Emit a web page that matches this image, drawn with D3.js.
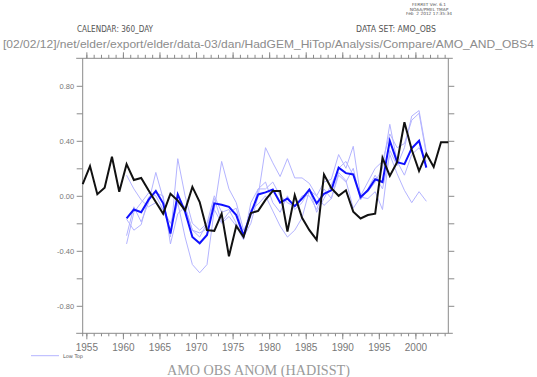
<!DOCTYPE html>
<html>
<head>
<meta charset="utf-8">
<script src="https://cdn.jsdelivr.net/npm/d3@7"></script>
<style>
  body { margin: 0; background: #fff; }
  svg { display: block; }
</style>
</head>
<body>
<svg id="grafico"></svg>
<script>
const WIDTH = 537,
    HEIGHT = 377;

const margin = { top: 58.3, bottom: 43.7, left: 82.7, right: 88.7 };

// observations (black), one value a year, plotted at mid-year
const obsYears = d3.range(1954, 2005);
const obsValues = [
    0.085, 0.216, 0.012, 0.058, 0.284, 0.03, 0.23, 0.115, 0.13, 0.04,
    -0.045, -0.13, 0.015, -0.035, -0.105, 0.065, -0.045, -0.25, -0.255, -0.13,
    -0.44, -0.22, -0.30, -0.125, -0.11, -0.03, 0.035, 0.035, -0.26, 0.005,
    -0.16, -0.25, -0.32, 0.155, 0.055, 0.0, 0.04, -0.115, -0.165, -0.14,
    -0.13, 0.275, 0.145, 0.245, 0.535, 0.335, 0.18, 0.305, 0.21, 0.39,
    0.39
];

// model runs 1960-2001
const runYears = d3.range(1960, 2002);
const meanValues = [
    -0.165, -0.10, -0.12, -0.03, 0.035, -0.055, -0.275, 0.01, -0.115, -0.30,
    -0.345, -0.285, -0.055, -0.065, -0.08, -0.14, -0.29, -0.125, 0.01, 0.025,
    0.045, -0.05, -0.02, -0.075, -0.02, 0.045, -0.055, 0.015, 0.04, 0.205,
    0.165, 0.155, -0.01, 0.04, 0.12, 0.10, 0.40, 0.245, 0.23, 0.345,
    0.40, 0.205
];
const member1 = [
    -0.35, -0.12, -0.05, 0.02, 0.0, -0.10, -0.20, -0.05, -0.30, -0.50,
    -0.56, -0.50, -0.10, 0.25, 0.05, -0.05, -0.25, -0.15, 0.05, 0.10,
    -0.05, -0.12, 0.0, -0.10, -0.05, 0.05, -0.12, -0.02, 0.08, 0.20,
    0.25, 0.15, 0.0, 0.03, 0.10, 0.20, 0.52, 0.25, 0.15, 0.30,
    0.35, 0.25
];
const member2 = [
    -0.29, -0.08, -0.19, -0.05, 0.17, -0.02, -0.30, 0.27, 0.0, -0.20,
    -0.25, -0.20, -0.10, -0.20, -0.15, -0.22, -0.32, -0.05, 0.05, 0.05,
    0.10, 0.0, -0.05, -0.08, 0.0, 0.0, -0.10, 0.05, -0.02, 0.15,
    0.10, 0.20, -0.03, 0.05, 0.15, 0.05, 0.30, 0.16, 0.04, -0.05,
    0.03, -0.04
];
const member3 = [
    0.15, 0.05, -0.03, -0.08, -0.05, -0.10, -0.25, -0.05, -0.08, -0.25,
    -0.30, -0.20, 0.0, -0.12, -0.10, -0.20, -0.30, -0.20, 0.0, 0.35,
    0.24, 0.14, 0.27, 0.13, 0.13, 0.09, 0.0, 0.10, 0.12, 0.30,
    0.20, 0.36, 0.0, 0.10, 0.20, 0.25, 0.45, 0.35, 0.38, 0.55,
    0.60, 0.30
];
const member4 = [
    -0.17, -0.25, -0.21, -0.01, 0.02, 0.0, -0.35, -0.13, -0.08, -0.25,
    -0.27, -0.24, -0.02, -0.19, -0.12, -0.09, -0.29, -0.10, -0.06, 0.0,
    -0.11, -0.22, -0.30, -0.25, -0.16, 0.04, 0.0, -0.07, -0.02, 0.17,
    0.11, -0.09, -0.01, -0.02, 0.03, -0.10, 0.33, 0.22, 0.35, 0.58,
    0.62, 0.32
];
const members = [member1, member2, member3, member4];

const majorYears = d3.range(1955, 2005, 5);
const minorYears = d3.range(1955, 2005);
const majorValues = [-0.8, -0.4, 0, 0.4, 0.8];
const minorValues = [-0.6, -0.2, 0.2, 0.6];

const svg = d3.select("#grafico")
    .attr("width", WIDTH)
    .attr("height", HEIGHT)
    .attr("font-family", "DejaVu Sans, sans-serif");

const x = d3.scaleLinear()
    .domain([1954.5, 2004.5])
    .range([margin.left, WIDTH - margin.right]);

const y = d3.scaleLinear()
    .domain([-1, 1])
    .range([HEIGHT - margin.bottom, margin.top]);

const gris = "#8a8a8a";

// ejes
const ejes = svg.append("g");

const ponerEje = (eje, transform) => {
    const g = ejes.append("g")
        .attr("transform", transform)
        .call(eje);
    g.select(".domain").remove();
    g.selectAll("line").attr("stroke", gris);
    g.selectAll("text").attr("fill", "#777").attr("font-size", 10);
    return g;
};

const yBottom = y(-1), yTop = y(1);

ponerEje(d3.axisBottom(x).tickValues(majorYears).tickSize(6).tickPadding(5).tickFormat(d3.format("d")),
    `translate(0 ${yBottom})`);
ponerEje(d3.axisBottom(x).tickValues(minorYears).tickSize(3).tickFormat(""),
    `translate(0 ${yBottom})`);
ponerEje(d3.axisTop(x).tickValues(majorYears).tickSize(6).tickFormat(""),
    `translate(0 ${yTop})`);
ponerEje(d3.axisTop(x).tickValues(minorYears).tickSize(3.5).tickFormat(""),
    `translate(0 ${yTop})`);

const ejeIzq = ponerEje(d3.axisLeft(y).tickValues(majorValues).tickSize(6).tickPadding(2.5)
    .tickFormat(d => d.toFixed(2)), `translate(${x(1954.5)} 0)`);
ejeIzq.selectAll("text").attr("font-size", 7.5);
ponerEje(d3.axisLeft(y).tickValues(minorValues).tickSize(6).tickFormat(""),
    `translate(${x(1954.5)} 0)`);
ponerEje(d3.axisRight(y).tickValues(majorValues.concat(minorValues)).tickSize(6).tickFormat(""),
    `translate(${x(2004.5)} 0)`);

// marco
ejes.append("line")
    .attr("x1", x(1954.5) - 6.5).attr("x2", x(2004.5) + 4.5)
    .attr("y1", yBottom).attr("y2", yBottom)
    .attr("stroke", gris);
ejes.append("line")
    .attr("x1", x(1954.5) - 6.5).attr("x2", x(2004.5) + 4.5)
    .attr("y1", yTop).attr("y2", yTop)
    .attr("stroke", gris);
ejes.append("line")
    .attr("x1", x(1954.5)).attr("x2", x(1954.5))
    .attr("y1", yTop).attr("y2", yBottom + 3)
    .attr("stroke", gris);
ejes.append("line")
    .attr("x1", x(2004.5)).attr("x2", x(2004.5))
    .attr("y1", yTop).attr("y2", yBottom)
    .attr("stroke", gris);

// lineas
const linea = d3.line()
    .x(d => x(d[0] + 0.5))
    .y(d => y(d[1]));

svg.append("g")
    .selectAll("path")
    .data(members)
    .join("path")
    .attr("fill", "none")
    .attr("stroke", "#b4b4ff")
    .attr("stroke-width", 1)
    .attr("d", vals => linea(runYears.map((a, i) => [a, vals[i]])));

svg.append("path")
    .attr("fill", "none")
    .attr("stroke", "#1010ff")
    .attr("stroke-width", 2)
    .attr("d", linea(runYears.map((a, i) => [a, meanValues[i]])));

svg.append("path")
    .attr("fill", "none")
    .attr("stroke", "#111")
    .attr("stroke-width", 2)
    .attr("d", linea(obsYears.map((a, i) => [a, obsValues[i]])));

// textos
const ferret = ["FERRET Ver. 6.1", "NOAA/PMEL TMAP", "Feb  2 2012 17:35:34"];
svg.append("g")
    .selectAll("text")
    .data(ferret)
    .join("text")
    .attr("x", 429)
    .attr("y", (d, i) => 6 + i * 4.6)
    .attr("text-anchor", "middle")
    .attr("font-size", 4.3)
    .attr("fill", "#555")
    .style("white-space", "pre")
    .text(d => d);

svg.append("text")
    .attr("x", 77).attr("y", 32)
    .attr("font-size", 8).attr("fill", "#555")
    .attr("textLength", 76).attr("lengthAdjust", "spacingAndGlyphs")
    .text("CALENDAR: 360_DAY");

svg.append("text")
    .attr("x", 356).attr("y", 32)
    .attr("font-size", 8).attr("fill", "#555")
    .attr("textLength", 80).attr("lengthAdjust", "spacingAndGlyphs")
    .text("DATA SET: AMO_OBS");

svg.append("text")
    .attr("x", 3).attr("y", 48)
    .attr("font-family", "Liberation Sans, Arial, sans-serif")
    .attr("font-size", 11.5).attr("fill", "#8c8c8c")
    .attr("textLength", 531).attr("lengthAdjust", "spacingAndGlyphs")
    .text("[02/02/12]/net/elder/export/elder/data-03/dan/HadGEM_HiTop/Analysis/Compare/AMO_AND_OBS4");

// leyenda
svg.append("line")
    .attr("x1", 31).attr("x2", 59)
    .attr("y1", 355.7).attr("y2", 355.7)
    .attr("stroke", "#b4b4ff");
svg.append("text")
    .attr("x", 63).attr("y", 357.5)
    .attr("font-size", 5).attr("fill", "#555")
    .text("Low Top");

svg.append("text")
    .attr("x", 258.5).attr("y", 375)
    .attr("text-anchor", "middle")
    .attr("font-family", "Liberation Serif, serif")
    .attr("font-size", 14).attr("fill", "#9a9a9a")
    .attr("textLength", 183).attr("lengthAdjust", "spacingAndGlyphs")
    .text("AMO OBS ANOM (HADISST)");
</script>
</body>
</html>
